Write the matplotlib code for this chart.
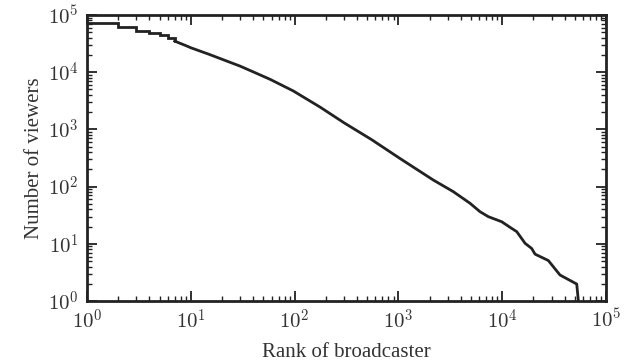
import math
import matplotlib
matplotlib.use("Agg")
import matplotlib.pyplot as plt
from matplotlib.ticker import LogLocator, FuncFormatter

plt.rcParams["mathtext.fontset"] = "cm"
plt.rcParams["font.family"] = ["Liberation Serif", "DejaVu Serif"]

# Top-ranked broadcasters (integer ranks, drawn as steps)
head_rank = [1, 2, 3, 4, 5, 6, 7]
head_viewers = [72000, 61000, 53000, 48000, 44500, 39300, 34900]

# Remaining ranks
tail_rank = [7, 8, 9, 10, 15, 20, 30, 40, 58, 97, 176, 300, 553, 1035, 2170,
             3380, 4900, 6110, 7350, 9890, 11900, 13800, 16600, 19200, 20700,
             27800, 36000, 52200, 54100]
tail_viewers = [34900, 31600, 29000, 26700, 20500, 16800, 12700, 10100, 7500,
                4700, 2450, 1300, 660, 310, 130, 81.5, 51, 36.4, 29.8, 24.3,
                19.4, 16.3, 10.2, 8.3, 6.6, 5.1, 2.85, 1.98, 1.0]

line_color = "#222222"
text_color = "#333333"

fig = plt.figure(figsize=(6.3, 3.64), dpi=100)
ax = fig.add_axes([0.138, 0.173, 0.824, 0.786])

ax.plot(head_rank, head_viewers, drawstyle="steps-post", color=line_color,
        lw=2.0, solid_joinstyle="miter")
ax.plot(tail_rank, tail_viewers, color=line_color, lw=2.0)

ax.set_xscale("log")
ax.set_yscale("log")
ax.set_xlim(1, 1e5)
ax.set_ylim(1, 1e5)

pow_fmt = FuncFormatter(lambda v, pos: r"$10^{%d}$" % round(math.log10(v)))
for axis in (ax.xaxis, ax.yaxis):
    axis.set_major_locator(LogLocator(base=10, numticks=10))
    axis.set_minor_locator(LogLocator(base=10, subs=range(2, 10), numticks=50))
    axis.set_major_formatter(pow_fmt)

for s in ax.spines.values():
    s.set_linewidth(2.0)
    s.set_color(line_color)

ax.tick_params(which="both", direction="in", top=True, right=True,
               color=line_color, labelcolor=text_color, labelsize=15)
ax.tick_params(which="major", length=7, width=1.3, pad=6)
ax.tick_params(which="minor", length=3.5, width=1.0)

ax.set_xlabel("Rank of broadcaster", fontsize=15, color=text_color, labelpad=6.5)
ax.set_ylabel("Number of viewers", fontsize=15, color=text_color, labelpad=3)

fig.savefig("out.png", dpi=100)
